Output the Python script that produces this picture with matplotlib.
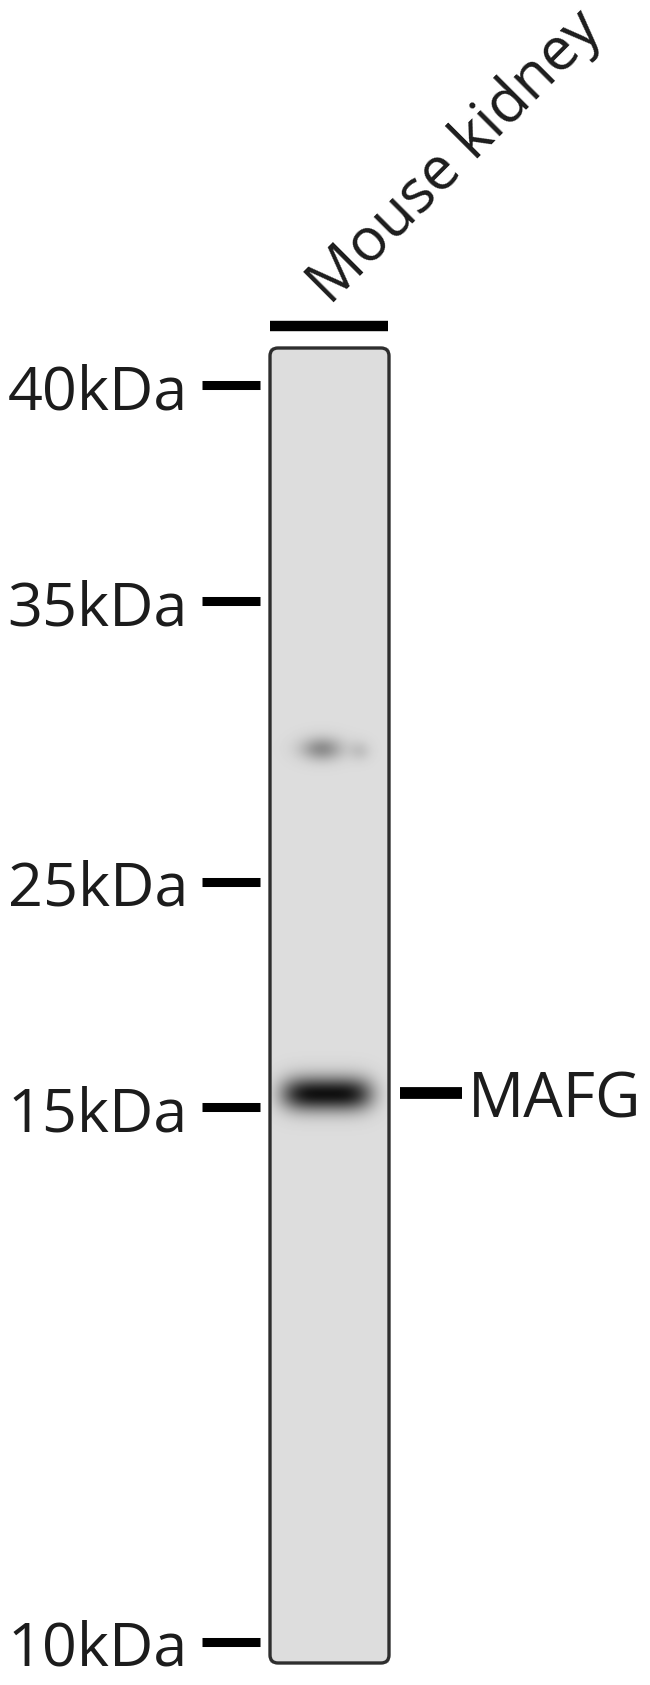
import matplotlib.pyplot as plt
import numpy as np
from matplotlib.patches import FancyBboxPatch

plt.rcParams['font.family'] = ['Open Sans', 'DejaVu Sans']

# --- data (rows are pixel rows of the 650x1685 picture) ---
lane_name = 'Mouse kidney'
marker_labels = ['40kDa', '35kDa', '25kDa', '15kDa', '10kDa']
marker_rows = [385, 601, 882, 1107, 1642]
target_name = 'MAFG'
target_row = 1093

# bands: centre row, centre column, half width, half height, darkness (0..1)
band_rows = [1094, 749, 751]
band_cols = [327, 322, 360]
band_halfw = [45, 21, 11]
band_halfh = [17, 12, 10]
band_dark = [1.0, 0.38, 0.12]
band_shape = [4, 2, 2]   # edge sharpness across the lane

lane_x = (270, 389)
lane_y = (348, 1663)
ink = '#1c1c1c'

fig = plt.figure(figsize=(6.5, 16.85), dpi=100)
ax = fig.add_axes([0, 0, 1, 1])
ax.set_xlim(0, 650)
ax.set_ylim(1685, 0)
ax.axis('off')

# lane image
yy, xx = np.mgrid[lane_y[0]:lane_y[1], lane_x[0]:lane_x[1]] + 0.5
dark = np.zeros_like(xx)
for r, c, hw, hh, d, p in zip(band_rows, band_cols, band_halfw, band_halfh, band_dark, band_shape):
    dark += d * np.exp(-np.abs((xx - c) / hw) ** p - ((yy - r) / hh) ** 2)
img = 0.865 - 0.8 * np.clip(dark, 0, 1)
ax.imshow(img, cmap='gray', vmin=0, vmax=1, interpolation='bilinear',
          extent=(lane_x[0], lane_x[1], lane_y[1], lane_y[0]), zorder=1)
ax.add_patch(FancyBboxPatch((lane_x[0], lane_y[0]), lane_x[1] - lane_x[0], lane_y[1] - lane_y[0],
                            boxstyle='round,pad=0,rounding_size=8', fc='none', ec='#2e2e2e',
                            lw=2.4, zorder=2))

# bar over the lane and lane label
ax.plot([270, 388], [326, 326], color='black', lw=7.5, solid_capstyle='butt')
ax.text(330, 306, lane_name, rotation=45, rotation_mode='anchor', ha='left', va='baseline',
        fontsize=43, color=ink)

# ladder
for lab, y in zip(marker_labels, marker_rows):
    ax.plot([202, 260], [y, y], color='black', lw=6.5, solid_capstyle='butt')
    ax.text(188, y + 24, lab, ha='right', va='baseline', fontsize=44, color=ink)

# target
ax.plot([400, 462], [target_row, target_row], color='black', lw=8.5, solid_capstyle='butt')
ax.text(468, target_row + 24, target_name, ha='left', va='baseline', fontsize=45, color=ink)

fig.savefig('out.png', dpi=100, facecolor='white')
